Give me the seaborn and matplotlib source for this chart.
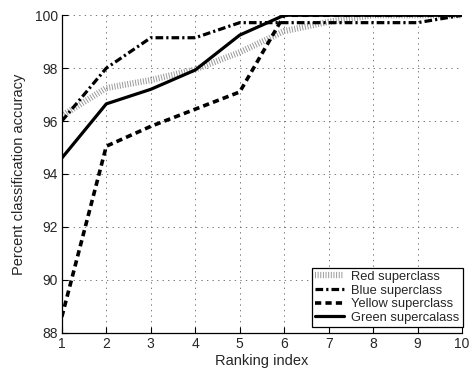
import numpy as np
import pandas as pd
import matplotlib
matplotlib.use("Agg")
import matplotlib.pyplot as plt
import seaborn as sns

rank = [1, 2, 3, 4, 5, 6, 7, 8, 9, 10]
red = [96.2, 97.25, 97.55, 97.95, 98.6, 99.4, 99.75, 100.0, 100.0, 100.0]
blue = [96.0, 98.0, 99.15, 99.15, 99.72, 99.72, 99.72, 99.72, 99.72, 100.0]
yellow = [88.6, 95.05, 95.8, 96.45, 97.1, 100.0, 100.0, 100.0, 100.0, 100.0]
green = [94.6, 96.65, 97.2, 97.93, 99.25, 100.0, 100.0, 100.0, 100.0, 100.0]
labels = ["Red superclass", "Blue superclass", "Yellow superclass", "Green supercalass"]

sns.set_style("white")
plt.rcParams["font.family"] = ["Liberation Sans", "DejaVu Sans"]
plt.rcParams["lines.scale_dashes"] = False

fig = plt.figure(figsize=(4.72, 3.70), dpi=100)
ax = fig.add_axes([0.131, 0.1008, 0.848, 0.858])

# dash patterns are in points (not scaled by line width)
styles = [
    dict(color="#9a9a9a", lw=4.5, ls=(0, (0.7, 1.2)), butt=True),
    dict(color="black", lw=2.3, ls=(0, (5.5, 2.2, 1.6, 2.2))),
    dict(color="black", lw=2.6, ls=(0, (4.5, 3.0))),
    dict(color="black", lw=2.3, ls="-"),
]
series = [red, blue, yellow, green]

for vals, lab, st in zip(series, labels, styles):
    df = pd.DataFrame({"rank": rank, "acc": vals})
    sns.lineplot(data=df, x="rank", y="acc", ax=ax, label=lab,
                 color=st["color"], linewidth=st["lw"], linestyle=st["ls"])
    if st.get("butt"):
        ax.lines[-1].set_dash_capstyle("butt")

ax.set_xlim(1, 10)
ax.set_ylim(88, 100)
ax.set_xticks(range(1, 11))
ax.set_yticks(range(88, 101, 2))
ax.grid(True, color="#666666", linestyle=(0, (1, 3)), linewidth=0.6)
for s in ["top", "right"]:
    ax.spines[s].set_visible(False)
for s in ["left", "bottom"]:
    ax.spines[s].set_color("black")
    ax.spines[s].set_linewidth(0.9)
ax.tick_params(direction="in", length=4, width=0.8, labelsize=10, color="black",
               bottom=True, left=True, pad=3)
ax.set_xlabel("Ranking index", fontsize=10.5, labelpad=2)
ax.set_ylabel("Percent classification accuracy", fontsize=10.5, labelpad=6)

leg = ax.legend(loc="lower right", bbox_to_anchor=(1.002, 0.018),
                fontsize=9.3, frameon=True, fancybox=False,
                edgecolor="black", framealpha=1, handlelength=2.2,
                borderpad=0.25, labelspacing=0.12, handletextpad=0.6,
                borderaxespad=0.0)
leg.get_frame().set_linewidth(0.9)
for h in leg.legend_handles:
    if h.get_color() == "#9a9a9a":
        h.set_dash_capstyle("butt")

fig.savefig("out.png", dpi=100)
